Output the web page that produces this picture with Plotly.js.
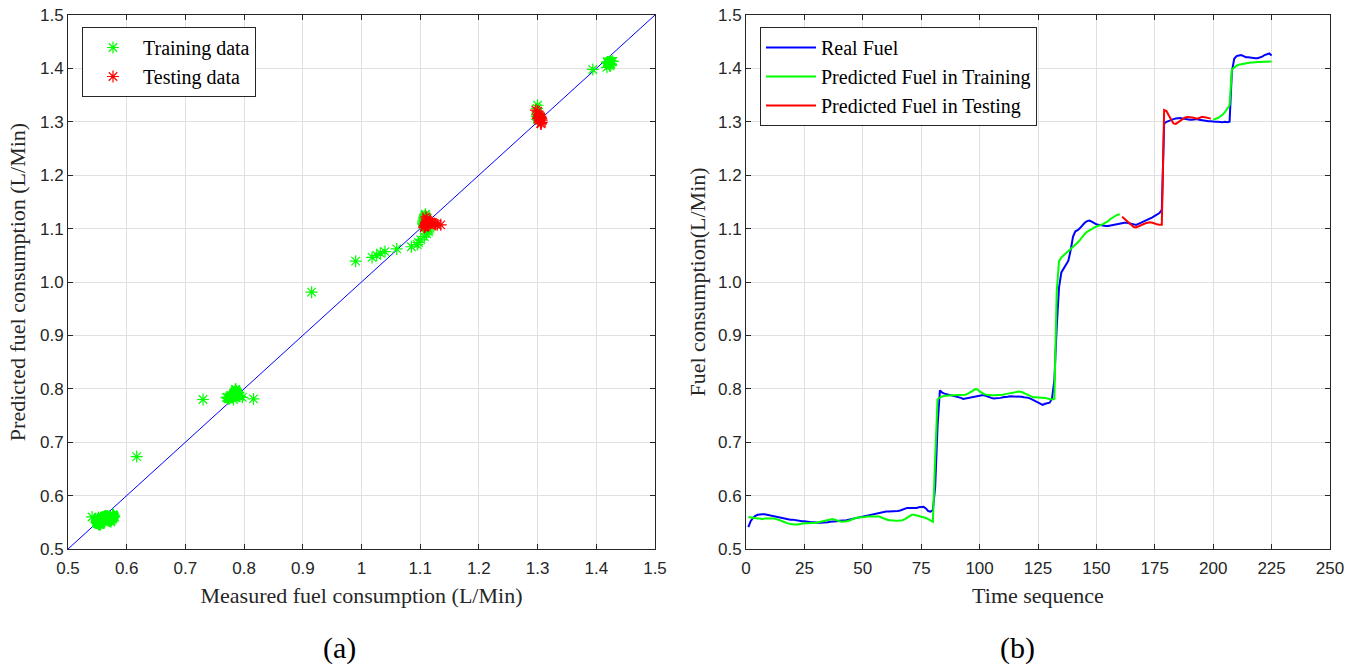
<!DOCTYPE html>
<html>
<head>
<meta charset="utf-8">
<script src="https://cdn.plot.ly/plotly-3.0.1.min.js"></script>
<style>
  html, body { margin: 0; padding: 0; background: #fff; }
  #chart { width: 1362px; height: 666px; }
</style>
</head>
<body>
<div id="chart"></div>
<script>
// Measured fuel consumption (L/Min), one sample per time step 1..225
const realFuel = [
  0.541, 0.552, 0.558, 0.562, 0.564, 0.565, 0.565, 0.565, 0.564, 0.564,
  0.563, 0.562, 0.561, 0.560, 0.559, 0.557, 0.556, 0.556, 0.555, 0.555,
  0.554, 0.553, 0.553, 0.552, 0.552, 0.551, 0.551, 0.550, 0.550, 0.549,
  0.549, 0.549, 0.549, 0.550, 0.550, 0.551, 0.551, 0.552, 0.552, 0.553,
  0.553, 0.553, 0.554, 0.555, 0.556, 0.557, 0.558, 0.559, 0.560, 0.561,
  0.562, 0.562, 0.563, 0.564, 0.565, 0.566, 0.567, 0.568, 0.569, 0.570,
  0.570, 0.570, 0.570, 0.571, 0.571, 0.572, 0.574, 0.576, 0.577, 0.577,
  0.577, 0.576, 0.577, 0.578, 0.578, 0.579, 0.576, 0.571, 0.570, 0.573,
  0.617, 0.730, 0.797, 0.793, 0.791, 0.790, 0.789, 0.788, 0.787, 0.786,
  0.785, 0.783, 0.781, 0.782, 0.783, 0.784, 0.785, 0.785, 0.786, 0.787,
  0.788, 0.788, 0.786, 0.784, 0.783, 0.782, 0.782, 0.782, 0.783, 0.784,
  0.784, 0.785, 0.786, 0.786, 0.786, 0.786, 0.785, 0.785, 0.784, 0.784,
  0.783, 0.781, 0.779, 0.777, 0.775, 0.772, 0.770, 0.772, 0.773, 0.774,
  0.782, 0.816, 0.915, 0.990, 1.018, 1.026, 1.032, 1.040, 1.060, 1.085,
  1.095, 1.097, 1.101, 1.107, 1.111, 1.114, 1.115, 1.113, 1.110, 1.108,
  1.107, 1.106, 1.105, 1.105, 1.105, 1.106, 1.107, 1.108, 1.109, 1.109,
  1.110, 1.111, 1.111, 1.110, 1.108, 1.107, 1.107, 1.109, 1.111, 1.112,
  1.114, 1.116, 1.118, 1.121, 1.124, 1.126, 1.129, 1.135, 1.297, 1.300,
  1.302, 1.303, 1.305, 1.306, 1.307, 1.307, 1.306, 1.305, 1.305, 1.304,
  1.304, 1.305, 1.305, 1.304, 1.303, 1.302, 1.302, 1.301, 1.301, 1.300,
  1.300, 1.300, 1.299, 1.299, 1.300, 1.299, 1.300, 1.394, 1.418, 1.423,
  1.424, 1.425, 1.423, 1.421, 1.421, 1.420, 1.419, 1.419, 1.419, 1.420,
  1.422, 1.425, 1.427, 1.428, 1.424
];

// Model output (L/Min) for the same time steps
const predictedFuel = [
  0.560, 0.559, 0.558, 0.557, 0.557, 0.557, 0.556, 0.557, 0.557, 0.558,
  0.558, 0.557, 0.556, 0.555, 0.553, 0.551, 0.549, 0.548, 0.547, 0.546,
  0.546, 0.546, 0.547, 0.547, 0.548, 0.548, 0.548, 0.549, 0.549, 0.549,
  0.550, 0.551, 0.552, 0.553, 0.555, 0.556, 0.556, 0.555, 0.553, 0.552,
  0.551, 0.551, 0.552, 0.553, 0.555, 0.557, 0.558, 0.559, 0.559, 0.559,
  0.560, 0.561, 0.561, 0.562, 0.562, 0.562, 0.561, 0.559, 0.557, 0.555,
  0.554, 0.554, 0.553, 0.553, 0.553, 0.553, 0.554, 0.556, 0.559, 0.562,
  0.564, 0.564, 0.563, 0.562, 0.561, 0.560, 0.558, 0.556, 0.553, 0.551,
  0.673, 0.780, 0.784, 0.786, 0.787, 0.787, 0.788, 0.788, 0.788, 0.788,
  0.788, 0.788, 0.788, 0.789, 0.791, 0.793, 0.796, 0.799, 0.799, 0.795,
  0.792, 0.790, 0.789, 0.788, 0.788, 0.788, 0.788, 0.788, 0.788, 0.789,
  0.790, 0.791, 0.792, 0.793, 0.794, 0.795, 0.795, 0.794, 0.792, 0.790,
  0.788, 0.786, 0.784, 0.784, 0.784, 0.784, 0.784, 0.783, 0.782, 0.781,
  0.780, 0.781, 0.981, 1.039, 1.046, 1.050, 1.054, 1.057, 1.062, 1.066,
  1.070, 1.074, 1.079, 1.085, 1.090, 1.094, 1.097, 1.100, 1.102, 1.104,
  1.105, 1.107, 1.109, 1.111, 1.114, 1.118, 1.121, 1.124, 1.126, 1.127,
  1.122, 1.118, 1.114, 1.111, 1.106, 1.103, 1.102, 1.104, 1.107, 1.109,
  1.110, 1.111, 1.112, 1.111, 1.109, 1.108, 1.107, 1.107, 1.322, 1.320,
  1.312, 1.303, 1.297, 1.296, 1.299, 1.303, 1.306, 1.308, 1.309, 1.309,
  1.308, 1.307, 1.306, 1.307, 1.309, 1.309, 1.308, 1.307, 1.306, 1.304,
  1.305, 1.307, 1.310, 1.313, 1.318, 1.325, 1.331, 1.398, 1.402, 1.405,
  1.407, 1.408, 1.409, 1.410, 1.410, 1.411, 1.411, 1.412, 1.412, 1.412,
  1.412, 1.413, 1.413, 1.413, 1.413
];

// Time steps held out for testing (inclusive)
const testStart = 161;
const testEnd = 199;

const diagonal = [0.5, 1.5];
const xTicksLeft = [0.5, 0.6, 0.7, 0.8, 0.9, 1.0, 1.1, 1.2, 1.3, 1.4, 1.5];
const xTickTextLeft = ['0.5', '0.6', '0.7', '0.8', '0.9', '1', '1.1', '1.2', '1.3', '1.4', '1.5'];
const yTicks = [0.5, 0.6, 0.7, 0.8, 0.9, 1.0, 1.1, 1.2, 1.3, 1.4, 1.5];
const yTickText = ['0.5', '0.6', '0.7', '0.8', '0.9', '1.0', '1.1', '1.2', '1.3', '1.4', '1.5'];
const xTicksRight = [0, 25, 50, 75, 100, 125, 150, 175, 200, 225, 250];

// Split the series into training and testing parts
const timeSteps = realFuel.map((_, i) => i + 1);
const isTest = t => t >= testStart && t <= testEnd;

const trainLineY = timeSteps.map((t, i) => isTest(t) ? null : predictedFuel[i]);
const testT = timeSteps.filter(isTest);
const testLineY = testT.map(t => predictedFuel[t - 1]);

const trainMeasured = [], trainPredicted = [], testMeasured = [], testPredicted = [];
timeSteps.forEach((t, i) => {
  if (isTest(t)) { testMeasured.push(realFuel[i]); testPredicted.push(predictedFuel[i]); }
  else { trainMeasured.push(realFuel[i]); trainPredicted.push(predictedFuel[i]); }
});

const axisColor = '#262626';
const gridColor = '#e0e0e0';
const tickFont = { family: 'Liberation Sans, Arial, sans-serif', size: 17, color: axisColor };
const serif = 'Liberation Serif, Times New Roman, serif';
const titleFont = { family: serif, size: 22, color: axisColor };
const legendFont = { family: serif, size: 20, color: '#000000' };

const traces = [
  { x: diagonal, y: diagonal, type: 'scatter', mode: 'lines',
    line: { color: '#0000ff', width: 1 }, showlegend: false, hoverinfo: 'skip',
    xaxis: 'x', yaxis: 'y' },
  { x: trainMeasured, y: trainPredicted, type: 'scatter', mode: 'markers', name: 'Training data',
    marker: { symbol: 'asterisk-open', size: 10, line: { color: '#00ff00', width: 1.2 }, color: '#00ff00' },
    xaxis: 'x', yaxis: 'y', legend: 'legend' },
  { x: testMeasured, y: testPredicted, type: 'scatter', mode: 'markers', name: 'Testing data',
    marker: { symbol: 'asterisk-open', size: 10, line: { color: '#ff0000', width: 1.2 }, color: '#ff0000' },
    xaxis: 'x', yaxis: 'y', legend: 'legend' },
  { x: timeSteps, y: realFuel, type: 'scatter', mode: 'lines', name: 'Real Fuel',
    line: { color: '#0000ff', width: 2 }, xaxis: 'x2', yaxis: 'y2', legend: 'legend2' },
  { x: timeSteps, y: trainLineY, type: 'scatter', mode: 'lines', name: 'Predicted Fuel in Training',
    line: { color: '#00ff00', width: 2 }, connectgaps: false, xaxis: 'x2', yaxis: 'y2', legend: 'legend2' },
  { x: testT, y: testLineY, type: 'scatter', mode: 'lines', name: 'Predicted Fuel in Testing',
    line: { color: '#ff0000', width: 2 }, xaxis: 'x2', yaxis: 'y2', legend: 'legend2' }
];

const W = 1362, H = 666;
const yDomain = [1 - 549 / H, 1 - 15 / H];

function axisBase() {
  return {
    showline: true, linecolor: axisColor, linewidth: 1, mirror: 'ticks',
    ticks: 'inside', ticklen: 5, tickcolor: axisColor, tickwidth: 1,
    showgrid: true, gridcolor: gridColor, gridwidth: 1, zeroline: false,
    tickfont: tickFont, fixedrange: true
  };
}

const layout = {
  width: W, height: H,
  margin: { l: 0, r: 0, t: 0, b: 0 },
  paper_bgcolor: '#ffffff', plot_bgcolor: '#ffffff',
  showlegend: true,
  xaxis: Object.assign(axisBase(), {
    domain: [68 / W, 655 / W], range: [0.5, 1.5], anchor: 'y',
    tickmode: 'array', tickvals: xTicksLeft, ticktext: xTickTextLeft, ticklabelstandoff: 4,
    title: { text: 'Measured fuel consumption (L/Min)', font: titleFont, standoff: 10 }
  }),
  yaxis: Object.assign(axisBase(), {
    domain: yDomain, range: [0.5, 1.5], anchor: 'x',
    tickmode: 'array', tickvals: yTicks, ticktext: yTickText,
    title: { text: 'Predicted fuel consumption (L/Min)', font: titleFont, standoff: 8 }
  }),
  xaxis2: Object.assign(axisBase(), {
    domain: [746 / W, 1330 / W], range: [0, 250], anchor: 'y2',
    tickmode: 'array', tickvals: xTicksRight, ticklabelstandoff: 4,
    title: { text: 'Time sequence', font: titleFont, standoff: 10 }
  }),
  yaxis2: Object.assign(axisBase(), {
    domain: yDomain, range: [0.5, 1.5], anchor: 'x2',
    tickmode: 'array', tickvals: yTicks, ticktext: yTickText,
    title: { text: 'Fuel consumption(L/Min)', font: titleFont, standoff: 6 }
  }),
  legend: {
    x: 82 / W, y: 1 - 27 / H, xanchor: 'left', yanchor: 'top',
    bgcolor: '#ffffff', bordercolor: axisColor, borderwidth: 1,
    font: legendFont, tracegroupgap: 0, itemwidth: 50
  },
  legend2: {
    x: 760 / W, y: 1 - 27 / H, xanchor: 'left', yanchor: 'top',
    bgcolor: '#ffffff', bordercolor: axisColor, borderwidth: 1,
    font: legendFont, tracegroupgap: 0, itemwidth: 50
  },
  annotations: [
    { text: '(a)', x: 339 / W, y: 1 - 648 / H, xref: 'paper', yref: 'paper',
      xanchor: 'center', yanchor: 'middle',
      showarrow: false, font: { family: serif, size: 30, color: '#000000' } },
    { text: '(b)', x: 1017 / W, y: 1 - 648 / H, xref: 'paper', yref: 'paper',
      xanchor: 'center', yanchor: 'middle',
      showarrow: false, font: { family: serif, size: 30, color: '#000000' } }
  ]
};

Plotly.newPlot('chart', traces, layout, { displayModeBar: false, staticPlot: true });
</script>
</body>
</html>
